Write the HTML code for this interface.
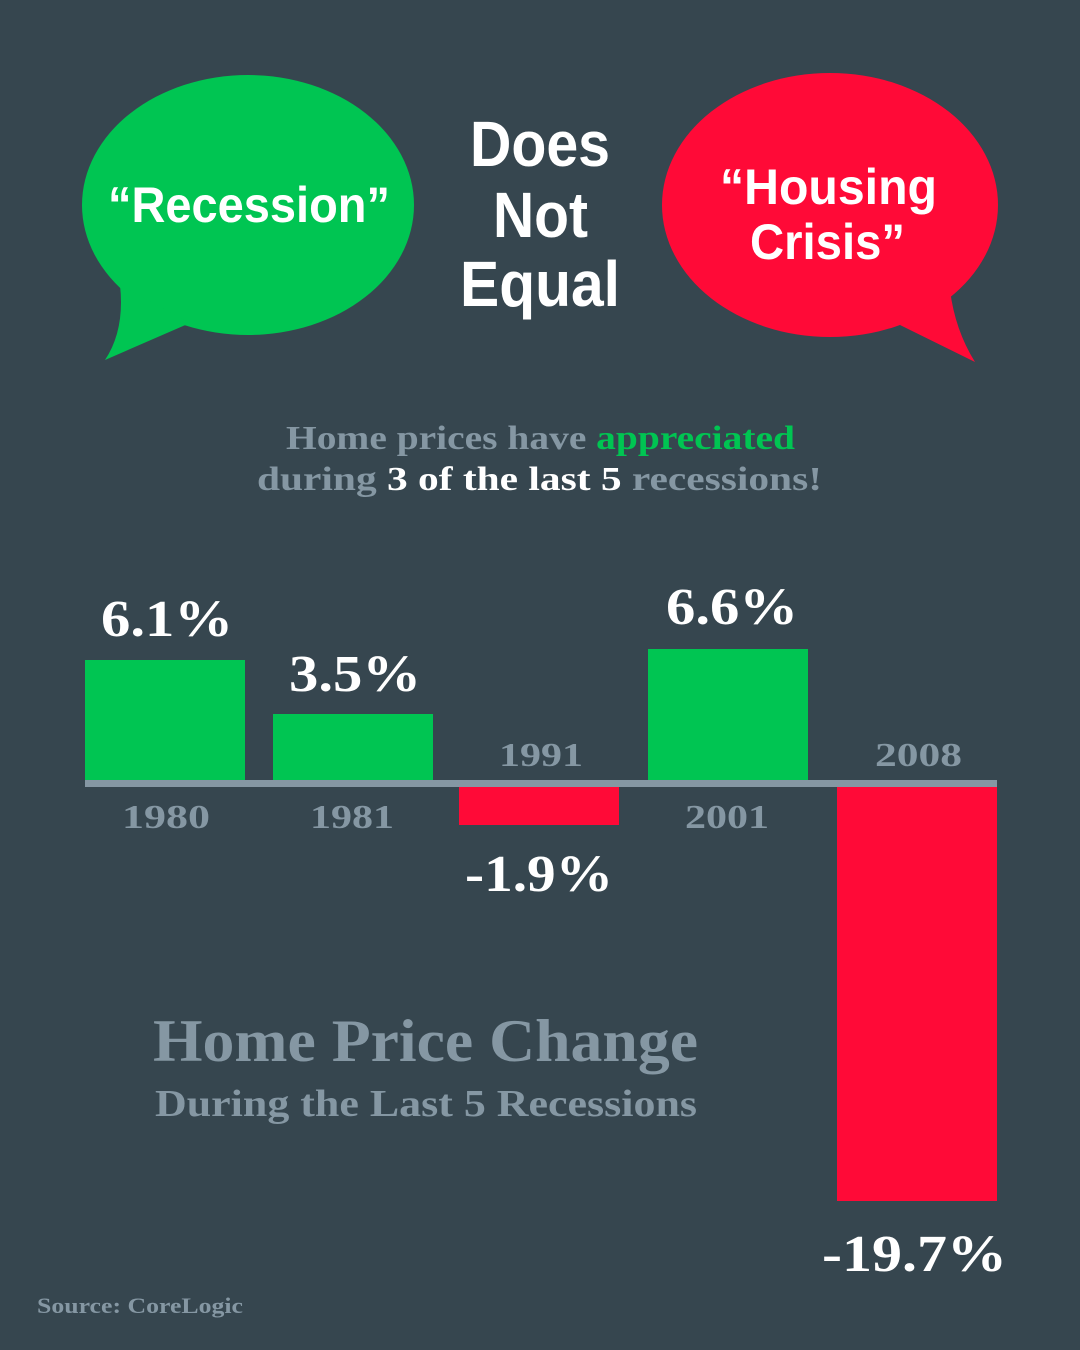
<!DOCTYPE html>
<html><head><meta charset="utf-8"><style>
html,body{margin:0;padding:0;background:#36464f;}
svg{display:block}
.c{font-family:"Liberation Sans Narrow","Liberation Sans",sans-serif;font-weight:bold;}
.s{font-family:"Liberation Serif",serif;font-weight:bold;}
</style></head><body>
<svg width="1080" height="1350" viewBox="0 0 1080 1350" xmlns="http://www.w3.org/2000/svg">
<rect width="1080" height="1350" fill="#36464f"/>
<ellipse cx="248" cy="205" rx="166" ry="130" fill="#00c552"/>
<path d="M120 285 Q125 330 105 360 L190 323 Z" fill="#00c552"/>
<ellipse cx="830" cy="205" rx="168" ry="132" fill="#ff0a37"/>
<path d="M950 290 Q955 330 975 362 L900 325 Z" fill="#ff0a37"/>
<text x="108" y="222" textLength="282" lengthAdjust="spacingAndGlyphs" class="c" font-size="50" fill="#fff">“Recession”</text>
<text x="720" y="204" textLength="217" lengthAdjust="spacingAndGlyphs" class="c" font-size="50" fill="#fff">“Housing</text>
<text x="750" y="259" textLength="155" lengthAdjust="spacingAndGlyphs" class="c" font-size="50" fill="#fff">Crisis”</text>
<text x="470" y="166" textLength="140" lengthAdjust="spacingAndGlyphs" class="c" font-size="64" fill="#fff">Does</text>
<text x="493" y="237" textLength="95" lengthAdjust="spacingAndGlyphs" class="c" font-size="64" fill="#fff">Not</text>
<text x="460" y="306" textLength="160" lengthAdjust="spacingAndGlyphs" class="c" font-size="64" fill="#fff">Equal</text>
<text x="286" y="449" textLength="509" lengthAdjust="spacingAndGlyphs" class="s" font-size="34" fill="#8597a3">Home prices have <tspan fill="#00c552">appreciated</tspan></text>
<text x="257" y="490" textLength="565" lengthAdjust="spacingAndGlyphs" class="s" font-size="34" fill="#8597a3">during <tspan fill="#fff">3 of the last 5</tspan> recessions!</text>
<rect x="85" y="660" width="160" height="120" fill="#00c552"/>
<rect x="273" y="714" width="160" height="66" fill="#00c552"/>
<rect x="648" y="649" width="160" height="131" fill="#00c552"/>
<rect x="459" y="787" width="160" height="38" fill="#ff0a37"/>
<rect x="837" y="787" width="160" height="414" fill="#ff0a37"/>
<rect x="85" y="780" width="912" height="7" fill="#8597a3"/>
<g class="s" fill="#fff" font-size="52">
<text x="101" y="636" textLength="132" lengthAdjust="spacingAndGlyphs">6.1%</text>
<text x="289" y="691" textLength="132" lengthAdjust="spacingAndGlyphs">3.5%</text>
<text x="666" y="624" textLength="132" lengthAdjust="spacingAndGlyphs">6.6%</text>
<text x="465" y="891" textLength="148" lengthAdjust="spacingAndGlyphs">-1.9%</text>
<text x="822" y="1271" textLength="185" lengthAdjust="spacingAndGlyphs">-19.7%</text>
</g>
<g class="s" fill="#8597a3" font-size="34">
<text x="122" y="828" textLength="88" lengthAdjust="spacingAndGlyphs">1980</text>
<text x="310" y="828" textLength="84" lengthAdjust="spacingAndGlyphs">1981</text>
<text x="499" y="766" textLength="84" lengthAdjust="spacingAndGlyphs">1991</text>
<text x="685" y="828" textLength="84" lengthAdjust="spacingAndGlyphs">2001</text>
<text x="875" y="766" textLength="87" lengthAdjust="spacingAndGlyphs">2008</text>
</g>
<text x="153" y="1061" textLength="545" lengthAdjust="spacingAndGlyphs" class="s" font-size="60" fill="#8597a3">Home Price Change</text>
<text x="155" y="1116" textLength="542" lengthAdjust="spacingAndGlyphs" class="s" font-size="38" fill="#8597a3">During the Last 5 Recessions</text>
<text x="37" y="1313" textLength="206" lengthAdjust="spacingAndGlyphs" class="s" font-size="22" fill="#8597a3">Source: CoreLogic</text>
</svg>
</body></html>
